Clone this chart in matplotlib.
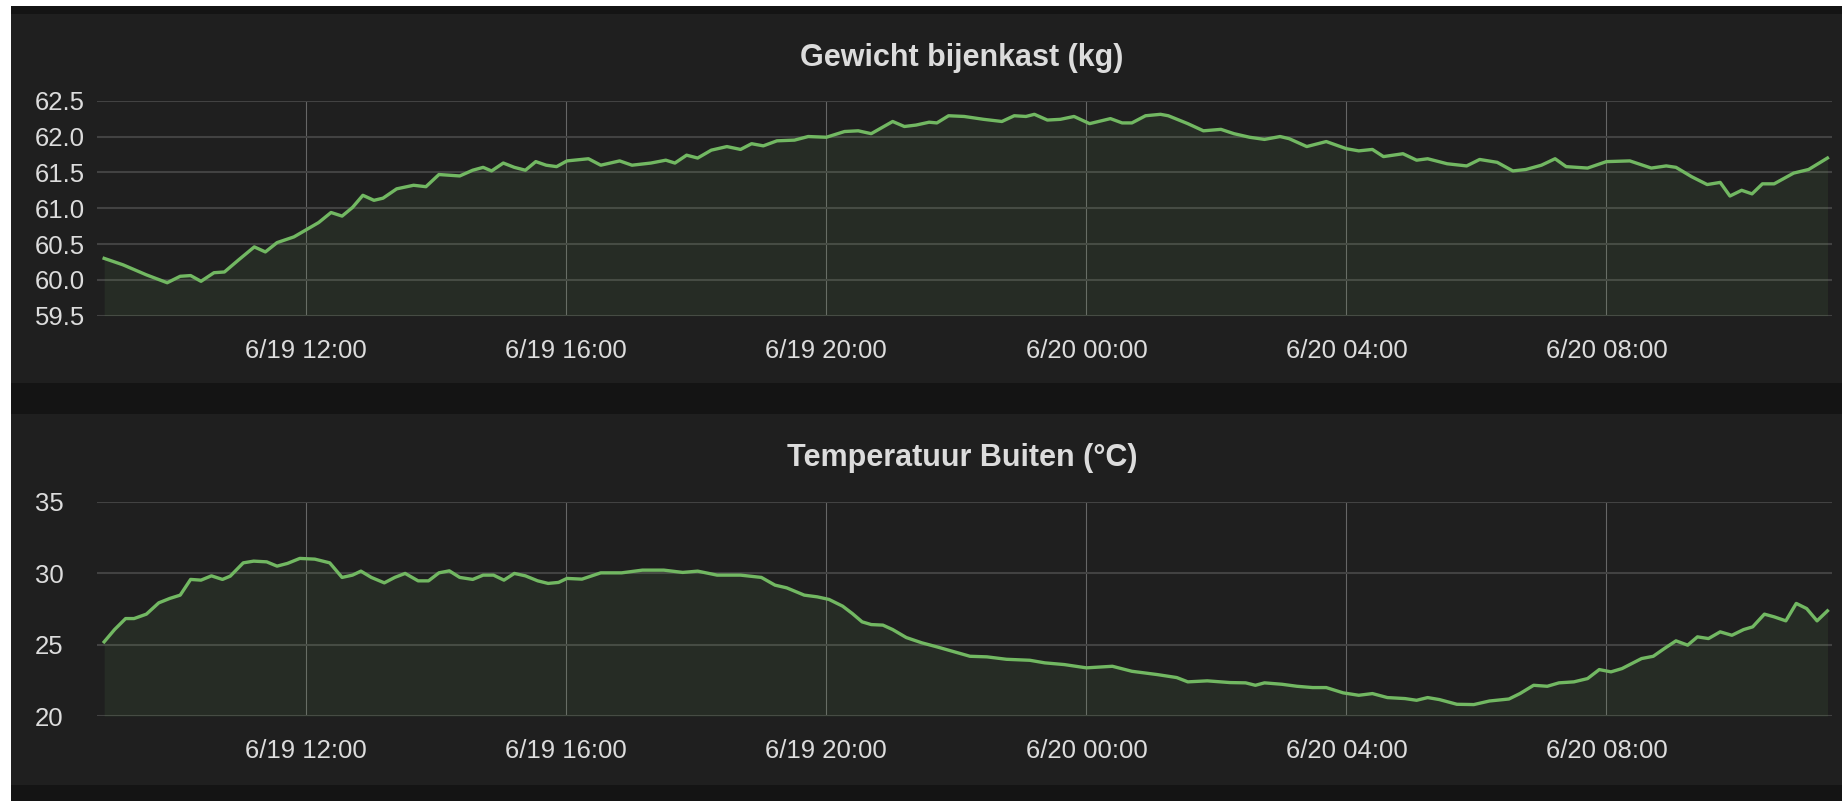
#!/usr/bin/env python3

import matplotlib.pyplot as plt
from matplotlib.patches import Rectangle

# ----------------------------
# Data (hours since 6/19 00:00)
# ----------------------------
weight_hours = [8.89, 9.18, 9.54, 9.86, 10.06, 10.22, 10.38, 10.58, 10.74, 10.96,
                11.20, 11.37, 11.55, 11.81, 12.00, 12.19, 12.38, 12.55, 12.71, 12.87,
                13.04, 13.18, 13.39, 13.65, 13.84, 14.04, 14.36, 14.56, 14.72, 14.85,
                15.03, 15.20, 15.37, 15.53, 15.69, 15.85, 16.01, 16.34, 16.53, 16.82,
                17.01, 17.30, 17.53, 17.67, 17.85, 18.02, 18.23, 18.47, 18.68, 18.85,
                19.03, 19.24, 19.51, 19.72, 20.00, 20.28, 20.49, 20.69, 21.02, 21.20,
                21.38, 21.58, 21.70, 21.88, 22.12, 22.42, 22.70, 22.89, 23.07, 23.20,
                23.40, 23.60, 23.81, 24.05, 24.37, 24.55, 24.70, 24.91, 25.14, 25.26,
                25.56, 25.80, 26.07, 26.27, 26.51, 26.74, 26.98, 27.12, 27.39, 27.69,
                28.00, 28.19, 28.40, 28.57, 28.87, 29.08, 29.25, 29.55, 29.85, 30.05,
                30.32, 30.56, 30.76, 31.00, 31.21, 31.38, 31.71, 32.00, 32.36, 32.69,
                32.92, 33.07, 33.31, 33.55, 33.75, 33.90, 34.08, 34.24, 34.40, 34.58,
                34.88, 35.11, 35.40]
weight_kg = [60.30, 60.21, 60.07, 59.96, 60.05, 60.06, 59.98, 60.10, 60.11, 60.28,
             60.46, 60.39, 60.52, 60.60, 60.70, 60.80, 60.94, 60.89, 61.01, 61.18,
             61.11, 61.14, 61.27, 61.32, 61.30, 61.47, 61.45, 61.53, 61.57, 61.52,
             61.63, 61.57, 61.53, 61.65, 61.60, 61.58, 61.66, 61.69, 61.60, 61.66,
             61.60, 61.63, 61.67, 61.63, 61.74, 61.70, 61.81, 61.86, 61.82, 61.90,
             61.87, 61.94, 61.95, 62.00, 61.99, 62.07, 62.08, 62.04, 62.21, 62.14,
             62.16, 62.20, 62.19, 62.29, 62.28, 62.24, 62.21, 62.29, 62.28, 62.31,
             62.23, 62.24, 62.28, 62.18, 62.25, 62.19, 62.19, 62.29, 62.31, 62.29,
             62.18, 62.08, 62.10, 62.04, 61.99, 61.96, 62.00, 61.97, 61.86, 61.93,
             61.83, 61.80, 61.82, 61.72, 61.76, 61.67, 61.69, 61.62, 61.59, 61.68,
             61.64, 61.52, 61.54, 61.60, 61.69, 61.58, 61.56, 61.65, 61.66, 61.56,
             61.59, 61.57, 61.44, 61.33, 61.36, 61.17, 61.25, 61.20, 61.34, 61.34,
             61.49, 61.54, 61.70]

temp_hours = [8.89, 9.05, 9.22, 9.35, 9.54, 9.73, 9.90, 10.06, 10.22, 10.38,
              10.54, 10.71, 10.83, 11.03, 11.19, 11.39, 11.55, 11.71, 11.90, 12.13,
              12.36, 12.55, 12.71, 12.84, 13.00, 13.20, 13.36, 13.52, 13.72, 13.88,
              14.04, 14.20, 14.36, 14.56, 14.72, 14.88, 15.04, 15.20, 15.37, 15.56,
              15.72, 15.88, 16.01, 16.24, 16.53, 16.85, 17.17, 17.50, 17.79, 18.02,
              18.32, 18.68, 19.00, 19.21, 19.39, 19.66, 19.86, 20.04, 20.25, 20.40,
              20.55, 20.69, 20.87, 21.02, 21.23, 21.47, 21.70, 21.97, 22.21, 22.47,
              22.77, 23.13, 23.36, 23.66, 24.00, 24.40, 24.70, 25.09, 25.39, 25.56,
              25.86, 26.21, 26.45, 26.60, 26.74, 27.01, 27.24, 27.48, 27.69, 27.95,
              28.19, 28.40, 28.63, 28.90, 29.08, 29.25, 29.43, 29.70, 29.96, 30.20,
              30.50, 30.67, 30.88, 31.09, 31.27, 31.50, 31.71, 31.89, 32.07, 32.24,
              32.54, 32.72, 32.89, 33.07, 33.25, 33.40, 33.57, 33.75, 33.93, 34.11,
              34.25, 34.43, 34.58, 34.76, 34.92, 35.08, 35.24, 35.40]
temp_c = [25.19, 26.05, 26.82, 26.82, 27.13, 27.92, 28.23, 28.46, 29.56, 29.51,
          29.81, 29.56, 29.79, 30.72, 30.84, 30.79, 30.49, 30.68, 31.03, 30.98,
          30.72, 29.70, 29.86, 30.14, 29.70, 29.32, 29.70, 29.98, 29.46, 29.46,
          30.02, 30.16, 29.70, 29.56, 29.86, 29.86, 29.51, 29.98, 29.81, 29.46,
          29.28, 29.35, 29.63, 29.58, 30.02, 30.02, 30.21, 30.21, 30.05, 30.14,
          29.86, 29.86, 29.70, 29.16, 28.97, 28.46, 28.34, 28.16, 27.69, 27.17,
          26.59, 26.40, 26.36, 26.05, 25.49, 25.12, 24.84, 24.49, 24.18, 24.14,
          23.97, 23.90, 23.72, 23.60, 23.37, 23.48, 23.13, 22.90, 22.69, 22.39,
          22.46, 22.34, 22.32, 22.15, 22.32, 22.22, 22.08, 21.99, 21.99, 21.62,
          21.45, 21.57, 21.29, 21.22, 21.10, 21.29, 21.15, 20.82, 20.80, 21.05,
          21.19, 21.57, 22.15, 22.08, 22.32, 22.39, 22.62, 23.25, 23.09, 23.32,
          24.02, 24.18, 24.72, 25.26, 24.96, 25.54, 25.42, 25.89, 25.65, 26.05,
          26.24, 27.13, 26.94, 26.66, 27.88, 27.52, 26.66, 27.36]

time_ticks = [12, 16, 20, 24, 28, 32]
time_labels = ["6/19 12:00", "6/19 16:00", "6/19 20:00",
               "6/20 00:00", "6/20 04:00", "6/20 08:00"]
weight_ticks = [59.5, 60.0, 60.5, 61.0, 61.5, 62.0, 62.5]
temp_ticks = [20, 25, 30, 35]

# ----------------------------
# Style
# ----------------------------
W, H = 1842, 801
page_bg = "#141414"
panel_bg = "#1f1f1f"
line_color = "#72b862"
text_color = "#dcdcdc"
hgrid_color = "#424242"
vgrid_color = "#666666"

plt.rcParams['font.family'] = ['Liberation Sans', 'DejaVu Sans']

fig = plt.figure(figsize=(W / 100, H / 100), dpi=100, facecolor=page_bg)


def add_rect(x0, y0, x1, y1, color):
    # pixel coordinates measured from the top-left corner
    fig.patches.append(Rectangle((x0 / W, 1 - y1 / H), (x1 - x0) / W, (y1 - y0) / H,
                                 transform=fig.transFigure, facecolor=color,
                                 edgecolor="none", zorder=-10))


add_rect(0, 0, 11, H, "white")
add_rect(0, 0, W, 6, "white")
add_rect(11, 14, W, 383, panel_bg)
add_rect(11, 414, W, 785, panel_bg)


def draw_chart(top, bottom, title, title_baseline, hours, values, yticks, ylabels):
    ax = fig.add_axes([97 / W, 1 - bottom / H, (1832 - 97) / W, (bottom - top) / H])
    ax.set_zorder(5)
    ax.set_facecolor(panel_bg)
    ymin, ymax = yticks[0], yticks[-1]

    ax.fill_between(hours, values, ymin, color=line_color, alpha=0.09, lw=0, zorder=2)
    ax.plot(hours, values, color=line_color, lw=2.4, zorder=3,
            solid_joinstyle="round")

    ax.set_xlim(8.78, 35.47)
    ax.set_ylim(ymin, ymax)
    ax.set_xticks(time_ticks)
    ax.set_xticklabels(time_labels)
    ax.set_yticks(yticks)
    ax.set_yticklabels(ylabels)

    ax.yaxis.grid(True, color=hgrid_color, lw=1.5, zorder=1)
    ax.xaxis.grid(True, color=vgrid_color, lw=0.8, zorder=1)
    ax.set_axisbelow(True)
    for s in ax.spines.values():
        s.set_visible(False)

    ax.tick_params(axis="x", length=0, pad=16.5, labelsize=18.5, colors=text_color)
    ax.tick_params(axis="y", length=0, pad=44.6, labelsize=18.5, colors=text_color)
    for lab in ax.get_yticklabels():
        lab.set_horizontalalignment("left")

    fig.text(962 / W, 1 - title_baseline / H, title, ha="center", va="baseline",
             fontsize=22, fontweight="bold", color=text_color, zorder=6)
    return ax


draw_chart(100.7, 315.7, "Gewicht bijenkast (kg)", 66, weight_hours, weight_kg,
           weight_ticks, [f"{v:.1f}" for v in weight_ticks])
draw_chart(501.7, 716.0, "Temperatuur Buiten (°C)", 466, temp_hours, temp_c,
           temp_ticks, [str(v) for v in temp_ticks])

fig.savefig("out.png", dpi=100, facecolor=fig.get_facecolor())
